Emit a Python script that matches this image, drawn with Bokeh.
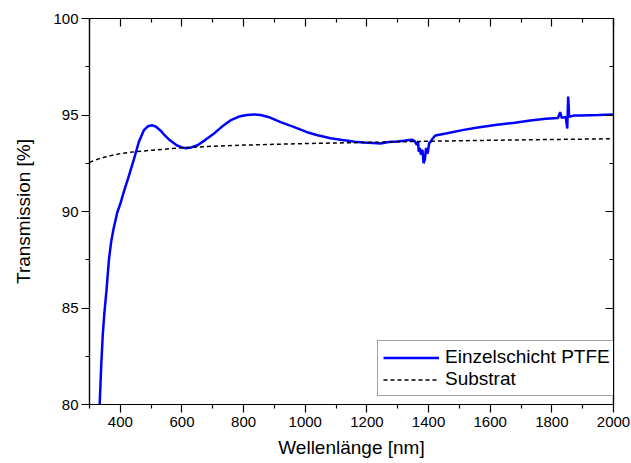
from bokeh.plotting import figure
from bokeh.models import LinearAxis, FixedTicker, Legend, LegendItem, CustomLabelingPolicy
from bokeh.embed import file_html
from bokeh.resources import INLINE

# --- data ---
ptfe_nm = [333, 338, 343, 348, 355, 363, 370, 378, 390, 400, 411, 425, 444, 460, 476,
           490, 503, 515, 530, 541, 560, 584, 600, 614, 630, 649, 675, 703, 730, 757,
           785, 811, 835, 855, 880, 920, 960, 1006, 1040, 1082, 1120, 1160, 1190, 1220,
           1244, 1270, 1298, 1320, 1346, 1355, 1362, 1366, 1368, 1372, 1375, 1380, 1384,
           1388, 1392, 1397, 1402, 1406, 1412, 1417, 1422, 1460, 1514, 1560, 1622, 1680,
           1730, 1780, 1820, 1827, 1832, 1845, 1850, 1853, 1856, 1870, 1893, 1950, 2000]
ptfe_t = [80.0, 82.0, 83.6, 84.7, 85.9, 87.5, 88.4, 89.1, 89.95, 90.4, 91.0, 91.7, 92.7, 93.6, 94.2,
          94.42, 94.47, 94.4, 94.2, 94.0, 93.7, 93.42, 93.32, 93.28, 93.32, 93.42, 93.7, 94.03, 94.4, 94.72,
          94.92, 95.0, 95.03, 95.0, 94.9, 94.63, 94.4, 94.11, 93.95, 93.8, 93.7, 93.62, 93.58, 93.55,
          93.52, 93.6, 93.63, 93.67, 93.72, 93.65, 93.45, 93.6, 93.1, 93.3, 92.95, 93.2, 92.5,
          92.7, 93.3, 93.0, 93.55, 93.6, 93.75, 93.85, 93.94, 94.05, 94.23, 94.35, 94.49, 94.6,
          94.72, 94.8, 94.85, 95.15, 94.85, 94.9, 94.3, 95.96, 94.9, 94.97, 94.97, 95.0, 95.03]

sub_nm = [300, 325, 350, 375, 400, 450, 500, 600, 700, 800, 1000, 1200, 1400, 1600, 1800, 2000]
sub_t = [92.55, 92.7, 92.82, 92.92, 93.0, 93.1, 93.17, 93.3, 93.38, 93.44, 93.52, 93.58, 93.64, 93.69, 93.73, 93.77]

x_major = [400, 600, 800, 1000, 1200, 1400, 1600, 1800, 2000]
x_minor = [300, 500, 700, 900, 1100, 1300, 1500, 1700, 1900]
y_major = [80, 85, 90, 95, 100]
y_minor = [82.5, 87.5, 92.5, 97.5]

label_ptfe = "Einzelschicht PTFE"
label_sub = "Substrat"
x_title = "Wellenlänge [nm]"
y_title = "Transmission [%]"

FONT = "Liberation Sans"

p = figure(width=631, height=463, output_backend="svg", toolbar_location=None,
           x_range=(300, 2000), y_range=(80, 100),
           min_border_left=89, min_border_right=18, min_border_top=18, min_border_bottom=59,
           x_axis_label=x_title, y_axis_label=y_title)
p.grid.visible = False
p.outline_line_color = "black"
p.outline_line_width = 1.2
p.background_fill_color = "white"
p.border_fill_color = "white"

r1 = p.line(ptfe_nm, ptfe_t, line_color="#0000ff", line_width=2.5)
r2 = p.line(sub_nm, sub_t, line_color="black", line_width=1.5, line_dash="4 3")

xt = FixedTicker(ticks=x_major, minor_ticks=x_minor)
yt = FixedTicker(ticks=y_major, minor_ticks=y_minor)

for ax in p.xaxis:
    ax.ticker = xt
for ax in p.yaxis:
    ax.ticker = yt

def style(ax, outward=True):
    ax.axis_line_color = "black"
    ax.axis_line_width = 1.2
    ax.major_tick_line_color = "black"
    ax.minor_tick_line_color = "black"
    ax.major_tick_line_width = 1.2
    ax.minor_tick_line_width = 1.2
    if outward:
        ax.major_tick_out = 8
        ax.major_tick_in = 0
        ax.minor_tick_out = 4
        ax.minor_tick_in = 0
    else:
        ax.major_tick_out = 0
        ax.major_tick_in = 8
        ax.minor_tick_out = 0
        ax.minor_tick_in = 4
    ax.major_label_text_font = FONT
    ax.major_label_text_font_size = "15px"
    ax.major_label_text_color = "black"
    ax.axis_label_text_font = FONT
    ax.axis_label_text_font_size = "19px"
    ax.axis_label_text_font_style = "normal"
    ax.axis_label_text_color = "black"

style(p.xaxis[0])
style(p.yaxis[0])
p.xaxis[0].major_label_standoff = 4
p.xaxis[0].axis_label_standoff = 7
p.yaxis[0].major_label_standoff = 3
p.yaxis[0].axis_label_standoff = 16

no_labels = CustomLabelingPolicy(code="""
const all = [...indices];
for (const i of all) indices.unset(i);
return indices;
""")

top = LinearAxis(ticker=xt)
right = LinearAxis(ticker=yt)
for ax in (top, right):
    style(ax, outward=False)
    ax.major_label_policy = no_labels
    ax.major_label_text_font_size = "1px"
    ax.major_label_standoff = 0
p.add_layout(top, "above")
p.add_layout(right, "right")

legend = Legend(items=[LegendItem(label=label_ptfe, renderers=[r1]),
                       LegendItem(label=label_sub, renderers=[r2])],
                location=(288, 8))
legend.label_text_font = FONT
legend.label_text_font_size = "19px"
legend.label_text_line_height = 1.0
legend.label_text_color = "black"
legend.glyph_width = 56
legend.glyph_height = 19
legend.label_height = 19
legend.label_standoff = 6
legend.padding = 5
legend.spacing = 0
legend.margin = 0
legend.border_line_color = "#444444"
legend.border_line_width = 1
legend.background_fill_alpha = 1
p.add_layout(legend)

open("out.html", "w").write(file_html(p, INLINE))
